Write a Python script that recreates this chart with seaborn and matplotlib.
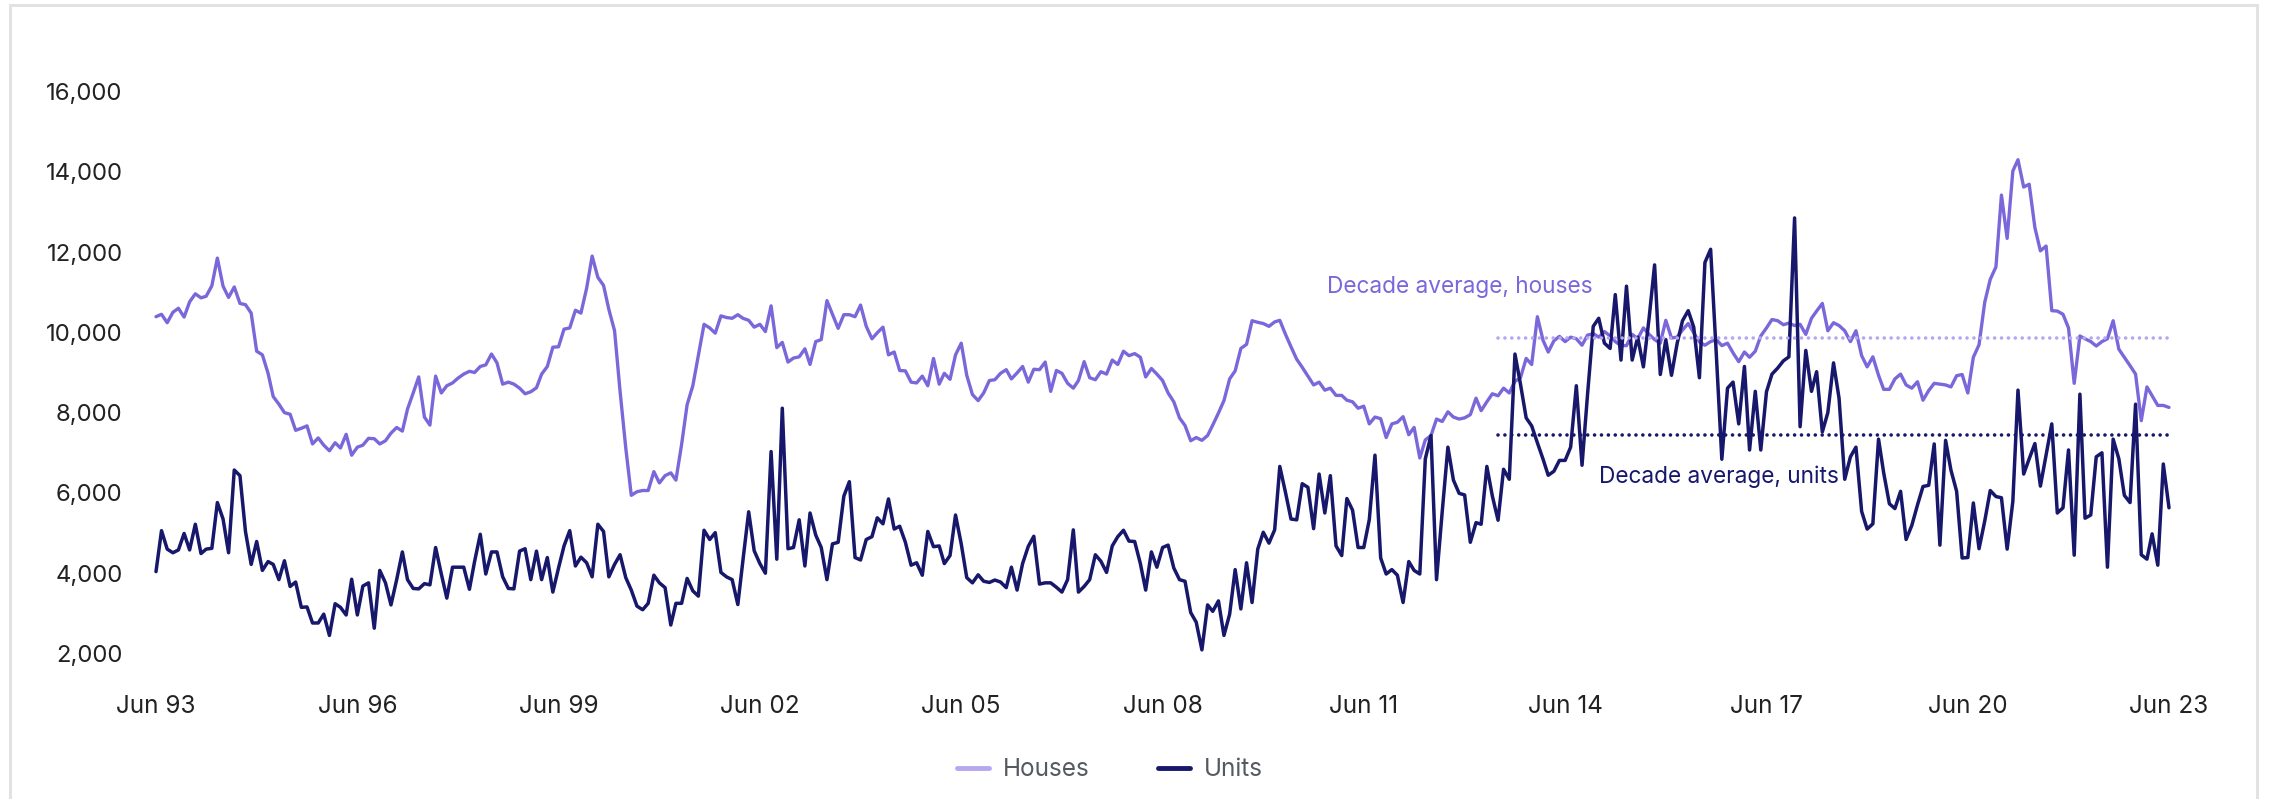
import pandas as pd
import numpy as np
import matplotlib.pyplot as plt
import matplotlib.dates as mdates
from matplotlib.lines import Line2D
from matplotlib.patches import Rectangle
import seaborn as sns

# monthly series, Jun 1993 - Jun 2023
start_month = "1993-06-01"

houses = [
    10390, 10450, 10240, 10500, 10600, 10380, 10760, 10960, 10860, 10900, 11160, 11850,
    11150, 10870, 11130, 10720, 10690, 10480, 9530, 9440, 8980, 8400, 8210, 8000,
    7960, 7560, 7610, 7670, 7220, 7370, 7190, 7050, 7250, 7120, 7460, 6940,
    7140, 7190, 7360, 7350, 7220, 7300, 7490, 7630, 7540, 8090, 8490, 8890,
    7890, 7690, 8910, 8490, 8670, 8740, 8860, 8960, 9030, 9000, 9150, 9190,
    9460, 9240, 8710, 8760, 8710, 8610, 8470, 8520, 8620, 8960, 9150, 9630,
    9640, 10080, 10110, 10550, 10480, 11100, 11900, 11370, 11170, 10570, 10040, 8530,
    7120, 5940, 6030, 6060, 6060, 6530, 6250, 6430, 6500, 6320, 7210, 8200,
    8670, 9420, 10200, 10110, 9980, 10410, 10370, 10350, 10440, 10350, 10300, 10130,
    10200, 10020, 10660, 9620, 9750, 9260, 9360, 9390, 9590, 9200, 9770, 9820,
    10790, 10450, 10100, 10440, 10440, 10390, 10680, 10150, 9840, 9990, 10130, 9440,
    9510, 9050, 9040, 8760, 8740, 8910, 8670, 9350, 8710, 8980, 8830, 9440,
    9730, 8930, 8450, 8300, 8490, 8800, 8820, 8980, 9070, 8840, 8990, 9150,
    8760, 9080, 9070, 9260, 8530, 9050, 8980, 8730, 8610, 8800, 9270, 8870,
    8820, 9020, 8960, 9310, 9200, 9530, 9420, 9470, 9380, 8890, 9100,
    8960, 8800, 8490, 8270, 7870, 7680, 7300, 7380, 7310, 7430, 7690, 7990,
    8300, 8840, 9040, 9600, 9700, 10290, 10250, 10220, 10150, 10260, 10300, 9950,
    9640, 9330, 9130, 8910, 8690, 8760, 8560, 8610, 8430, 8430, 8310, 8270,
    8110, 8160, 7720, 7890, 7850, 7380, 7720, 7760, 7900, 7450, 7630, 6870,
    7320, 7430, 7840, 7780, 8020, 7890, 7840, 7870, 7950, 8360, 8050, 8270,
    8470, 8420, 8610, 8490, 8780, 8870, 9350, 9200, 10390, 9800, 9510, 9790,
    9900, 9770, 9880, 9840, 9680, 9930, 9970, 9880, 10020, 9910, 9770, 9670,
    9670, 9950, 9840, 10110, 9950, 9820, 9730, 10300, 9860, 9880, 10060, 10220,
    9990, 9760, 9680, 9770, 9820, 9670, 9730, 9490, 9270, 9510, 9380,
    9530, 9910, 10110, 10320, 10290, 10190, 10230, 10170, 10200, 9950, 10350, 10530,
    10720, 10040, 10240, 10170, 10040, 9770, 10040, 9420, 9140, 9390, 8930, 8580,
    8580, 8840, 8960, 8690, 8610, 8770, 8310, 8550, 8730, 8710, 8690, 8640,
    8920, 8950, 8490, 9380, 9690, 10750, 11320, 11630, 13420, 12340, 14020, 14300,
    13620, 13690, 12610, 12030, 12150, 10540, 10530, 10450, 10110, 8730, 9910, 9840,
    9770, 9660, 9770, 9840, 10290, 9580, 9380, 9170, 8960, 7800, 8640, 8420,
    8180, 8180, 8130,
]

units = [
    4040, 5060, 4600, 4510, 4580, 4990, 4580, 5220, 4490, 4600, 4620, 5760,
    5350, 4510, 6570, 6430, 5040, 4220, 4790, 4070, 4290, 4220, 3840, 4310,
    3670, 3780, 3150, 3160, 2760, 2760, 2980, 2450, 3240, 3150, 2960, 3850,
    2960, 3680, 3760, 2630, 4070, 3760, 3210, 3840, 4530, 3840, 3620, 3610,
    3740, 3710, 4640, 3980, 3380, 4150, 4150, 4150, 3600, 4290, 4970, 3980,
    4530, 4530, 3910, 3620, 3610, 4550, 4610, 3840, 4550, 3840, 4390, 3530,
    4130, 4680, 5060, 4180, 4400, 4260, 3910, 5220, 5040, 3910, 4220, 4460,
    3890, 3580, 3180, 3090, 3250, 3950, 3760, 3640, 2710, 3250, 3250, 3870,
    3560, 3430, 5070, 4840, 5010, 4020, 3910, 3840, 3220, 4330, 5530, 4560,
    4240, 4000, 7030, 4350, 8110, 4610, 4640, 5330, 4180, 5500, 4950, 4640,
    3840, 4730, 4770, 5920, 6280, 4390, 4330, 4840, 4910, 5380, 5230, 5850,
    5100, 5170, 4770, 4200, 4260, 3950, 5040, 4660, 4680, 4240, 4440, 5450,
    4730, 3890, 3760, 3960, 3800, 3770, 3830, 3780, 3640, 4150, 3580, 4240,
    4670, 4920, 3730, 3760, 3760, 3650, 3530, 3840, 5080, 3530, 3670, 3840,
    4460, 4300, 4020, 4680, 4910, 5070, 4800, 4790, 4240, 3580, 4530,
    4150, 4640, 4700, 4130, 3840, 3800, 3020, 2780, 2090, 3210, 3050, 3310,
    2450, 2980, 4090, 3110, 4260, 3270, 4600, 5020, 4750, 5080, 6660, 6010,
    5350, 5330, 6230, 6140, 5110, 6470, 5500, 6430, 4680, 4440, 5860, 5570,
    4640, 4640, 5330, 6940, 4380, 3980, 4090, 3950, 3270, 4290, 4070, 3980,
    6850, 7430, 3840, 5530, 7140, 6320, 5990, 5950, 4770, 5260, 5220, 6660,
    5920, 5320, 6590, 6340, 9460, 8710, 7870, 7670, 7250, 6840, 6440, 6540,
    6810, 6810, 7140, 8670, 6690, 8450, 10150, 10350, 9730, 9600, 10940, 9310,
    11150, 9310, 9880, 9140, 10350, 11680, 8950, 9820, 8930, 9730, 10290, 10540,
    10130, 8870, 11740, 12070, 9450, 6840, 8610, 8760, 7720, 9150, 7070,
    8530, 7070, 8520, 8960, 9110, 9290, 9390, 12850, 7650, 9550, 8530, 9020,
    7520, 8000, 9240, 8360, 6340, 6900, 7140, 5540, 5100, 5230, 7340, 6500,
    5730, 5610, 6040, 4840, 5190, 5700, 6160, 6190, 7220, 4700, 7310, 6570,
    6040, 4380, 4390, 5750, 4610, 5300, 6060, 5910, 5880, 4600, 5790, 8560,
    6470, 6850, 7230, 6170, 6940, 7720, 5500, 5630, 7070, 4450, 8460, 5370,
    5450, 6900, 7000, 4150, 7340, 6850, 5940, 5760, 8210, 4460, 4350, 4980,
    4200, 6720, 5630,
]

# decade averages (Jun 13 - Jun 23)
decade_start = "2013-06-01"
decade_end = "2023-06-01"
houses_avg = 9850
units_avg = 7440

yticks = [2000, 4000, 6000, 8000, 10000, 12000, 14000, 16000]
xtick_years = [1993, 1996, 1999, 2002, 2005, 2008, 2011, 2014, 2017, 2020, 2023]

HOUSE_COL = "#7b67da"
HOUSE_LIGHT = "#b6a7ef"
UNIT_COL = "#17176b"

dates = pd.date_range(start_month, periods=len(houses), freq="MS")
df = pd.DataFrame({"date": dates, "Houses": houses, "Units": units})

sns.set_theme(style="white")
plt.rcParams["font.family"] = ["Inter", "DejaVu Sans"]

W, H = 2272, 799
fig = plt.figure(figsize=(W / 100, H / 100), dpi=100)
ax = fig.add_axes([156 / W, 1 - 653.5 / H, (2169 - 156) / W, (653.5 - 91.5) / H])

sns.lineplot(data=df, x="date", y="Houses", color=HOUSE_COL, lw=2.4, ax=ax)
sns.lineplot(data=df, x="date", y="Units", color=UNIT_COL, lw=2.5, ax=ax)

d0, d1 = pd.Timestamp(decade_start), pd.Timestamp(decade_end)
ax.plot([d0, d1], [houses_avg, houses_avg], color=HOUSE_LIGHT, lw=2.6,
        linestyle=(0, (0.01, 1.9)), dash_capstyle="round")
ax.plot([d0, d1], [units_avg, units_avg], color=UNIT_COL, lw=2.6,
        linestyle=(0, (0.01, 1.9)), dash_capstyle="round")

ax.text(pd.Timestamp("2010-11-15"), 11140, "Decade average, houses",
        color=HOUSE_COL, fontsize=16.3, va="center", ha="left")
ax.text(pd.Timestamp("2014-12-01"), 6400, "Decade average, units",
        color=UNIT_COL, fontsize=16.3, va="center", ha="left")

ax.set_xlim(dates[0], dates[-1])
ax.set_ylim(2000, 16000)
ax.set_yticks(yticks)
ax.set_yticklabels([f"{v:,}" for v in yticks])
xt = [pd.Timestamp(f"{y}-06-01") for y in xtick_years]
ax.set_xticks(xt)
ax.set_xticklabels([d.strftime("Jun %y") for d in xt])
ax.tick_params(axis="y", length=0, pad=24, labelsize=17.2, labelcolor="#222222")
ax.tick_params(axis="x", length=0, pad=30, labelsize=17.5, labelcolor="#222222")
ax.set_xlabel("")
ax.set_ylabel("")
sns.despine(ax=ax, left=True, bottom=True)
for line in ax.get_lines():
    line.set_clip_on(False)

handles = [Line2D([], [], color=HOUSE_LIGHT, lw=3.5),
           Line2D([], [], color=UNIT_COL, lw=3.5)]
leg = fig.legend(handles, ["Houses", "Units"], loc="center",
                 bbox_to_anchor=(1110 / W, 1 - 770 / H), ncol=2, frameon=False,
                 fontsize=17.5, handlelength=1.3, handletextpad=0.6, columnspacing=2.8)
for t in leg.get_texts():
    t.set_color("#555a60")

fig.patches.append(Rectangle((10 / W, -0.05), (2257 - 10) / W, 1 - 5 / H + 0.05,
                             transform=fig.transFigure, fill=False,
                             edgecolor="#e2e2e2", lw=2.2))

fig.savefig("out.png", dpi=100)
